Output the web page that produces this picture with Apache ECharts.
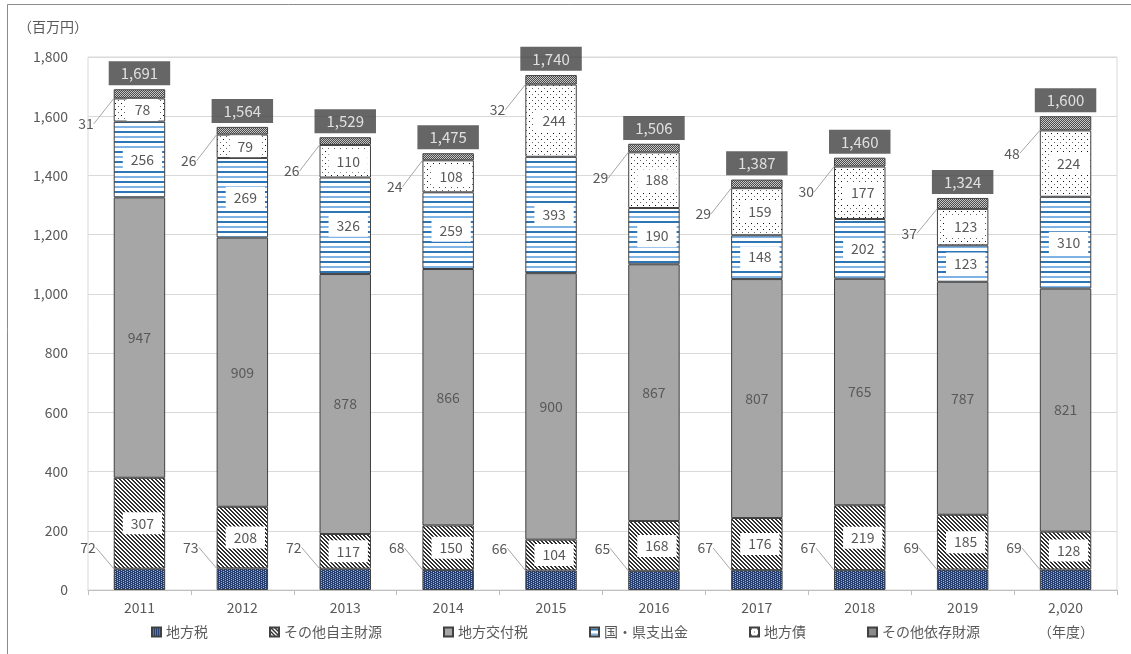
<!DOCTYPE html>
<html>
<head>
<meta charset="utf-8">
<script src="https://cdn.jsdelivr.net/npm/echarts@6/dist/echarts.min.js"></script>
<style>
  html, body { margin: 0; padding: 0; background: #fff; }
  #chart { width: 1131px; height: 654px; }
</style>
</head>
<body>
<div id="chart"></div>
<script>
// 年度別の歳入内訳（百万円）
const years = ['2011', '2012', '2013', '2014', '2015', '2016', '2017', '2018', '2019', '2,020'];
const chihouzei    = [72, 73, 72, 68, 66, 65, 67, 67, 69, 69];          // 地方税
const sonotaJishu  = [307, 208, 117, 150, 104, 168, 176, 219, 185, 128]; // その他自主財源
const koufuzei     = [947, 909, 878, 866, 900, 867, 807, 765, 787, 821]; // 地方交付税
const shishutsukin = [256, 269, 326, 259, 393, 190, 148, 202, 123, 310]; // 国・県支出金
const chihousai    = [78, 79, 110, 108, 244, 188, 159, 177, 123, 224];   // 地方債
const sonotaIzon   = [31, 26, 26, 24, 32, 29, 29, 30, 37, 48];           // その他依存財源
const totals       = [1691, 1564, 1529, 1475, 1740, 1506, 1387, 1460, 1324, 1600];
const yMax = 1800;
const yStep = 200;

const FONT = '"Noto Sans CJK JP", "Noto Sans", sans-serif';
const TEXT = '#595959';

// タイル状の塗りパターンを作る
function pattern(w, h, draw) {
  const c = document.createElement('canvas');
  c.width = w; c.height = h;
  const g = c.getContext('2d');
  draw(g);
  return { image: c, repeat: 'repeat' };
}

const fillTax = pattern(4, 4, g => {
  g.fillStyle = '#263f6e'; g.fillRect(0, 0, 4, 4);
  g.fillStyle = '#9fb3d8';
  g.fillRect(1, 0, 1, 1); g.fillRect(1, 2, 1, 1);
  g.fillRect(3, 1, 1, 1); g.fillRect(3, 3, 1, 1);
});
const fillHatch = pattern(4, 4, g => {
  g.fillStyle = '#ffffff'; g.fillRect(0, 0, 4, 4);
  g.fillStyle = '#303030';
  for (let i = 0; i < 4; i++) { g.fillRect(i, i, 1, 1); g.fillRect((i + 1) % 4, i, 1, 1); }
});
const fillGrant = '#a6a6a6';
const fillSubsidy = pattern(4, 10, g => {
  g.fillStyle = '#ffffff'; g.fillRect(0, 0, 4, 10);
  g.fillStyle = '#2e75b6'; g.fillRect(0, 1, 4, 2);
  g.fillStyle = '#7fb2e5'; g.fillRect(0, 6, 4, 2);
});
const fillBond = pattern(6, 6, g => {
  g.fillStyle = '#ffffff'; g.fillRect(0, 0, 6, 6);
  g.fillStyle = '#111'; g.fillRect(1, 1, 1, 1);
  g.fillStyle = '#666'; g.fillRect(4, 4, 1, 1);
});
const fillOther = pattern(2, 2, g => {
  g.fillStyle = '#4a4a4a'; g.fillRect(0, 0, 2, 2);
  g.fillStyle = '#c8c8c8'; g.fillRect(0, 0, 1, 1); g.fillRect(1, 1, 1, 1);
});

const boxLabel = {
  show: true, position: 'inside', offset: [3, 0],
  color: TEXT, fontSize: 14, fontFamily: FONT,
  backgroundColor: '#ffffff', padding: [4, 8]
};
const sideLine = { show: true, length2: 0, lineStyle: { color: '#a6a6a6', width: 1 } };

function bar(name, data, color, label, extra) {
  return Object.assign({
    name, type: 'bar', stack: 'total', data, barWidth: '50%',
    itemStyle: { color, borderColor: '#404040', borderWidth: 1 },
    label, emphasis: { disabled: true }
  }, extra || {});
}

const series = [
  bar('地方税', chihouzei, fillTax, {
    show: true, position: 'left', distance: 6, color: TEXT, fontSize: 14, fontFamily: FONT
  }, { labelLayout: { dx: -12, dy: -32 }, labelLine: sideLine }),
  bar('その他自主財源', sonotaJishu, fillHatch, boxLabel),
  bar('地方交付税', koufuzei, fillGrant, {
    show: true, position: 'inside', color: TEXT, fontSize: 14, fontFamily: FONT
  }),
  bar('国・県支出金', shishutsukin, fillSubsidy, boxLabel),
  bar('地方債', chihousai, fillBond, boxLabel),
  bar('その他依存財源', sonotaIzon, fillOther, {
    show: true, position: 'left', distance: 6, color: TEXT, fontSize: 14, fontFamily: FONT
  }, { labelLayout: { dx: -14, dy: 30 }, labelLine: sideLine }),
  {
    name: '合計', type: 'scatter', data: totals, symbol: 'rect', symbolSize: 0,
    z: 10, silent: true,
    label: {
      show: true, position: 'top', distance: 4,
      formatter: p => p.value.toLocaleString('en-US'),
      color: '#ffffff', fontSize: 15, fontFamily: FONT,
      backgroundColor: '#404040', padding: [5, 12, 4, 12]
    }
  }
];

const chart = echarts.init(document.getElementById('chart'), null, { renderer: 'canvas' });
chart.setOption({
  animation: false,
  backgroundColor: '#ffffff',
  grid: { left: 88, right: 14, top: 57, bottom: 64, show: true, borderColor: '#d9d9d9', borderWidth: 1 },
  xAxis: {
    type: 'category', data: years,
    axisLine: { lineStyle: { color: '#bfbfbf' } },
    axisTick: { show: true, length: 5, lineStyle: { color: '#bfbfbf' } },
    axisLabel: { color: TEXT, fontSize: 14, fontFamily: FONT, margin: 11 }
  },
  yAxis: {
    type: 'value', min: 0, max: yMax, interval: yStep,
    axisLine: { show: false }, axisTick: { show: false },
    splitLine: { lineStyle: { color: '#d9d9d9' } },
    axisLabel: {
      color: TEXT, fontSize: 14, fontFamily: FONT, margin: 20,
      formatter: v => v.toLocaleString('en-US')
    }
  },
  legend: {
    data: ['地方税', 'その他自主財源', '地方交付税', '国・県支出金', '地方債', 'その他依存財源'],
    bottom: 10, left: 'center', icon: 'rect', itemWidth: 9, itemHeight: 9, itemGap: 61,
    textStyle: { color: TEXT, fontSize: 14, fontFamily: FONT }
  },
  graphic: [
    { type: 'rect', shape: { x: 7.5, y: 4.5, width: 1140, height: 700 },
      style: { fill: null, stroke: '#8c8c8c', lineWidth: 1 }, silent: true },
    { type: 'text', x: 18, y: 20, style: { text: '（百万円）', fill: TEXT, font: '14px ' + FONT } },
    { type: 'text', x: 1038, y: 625, style: { text: '（年度）', fill: TEXT, font: '14px ' + FONT } }
  ],
  series
});
</script>
</body>
</html>
